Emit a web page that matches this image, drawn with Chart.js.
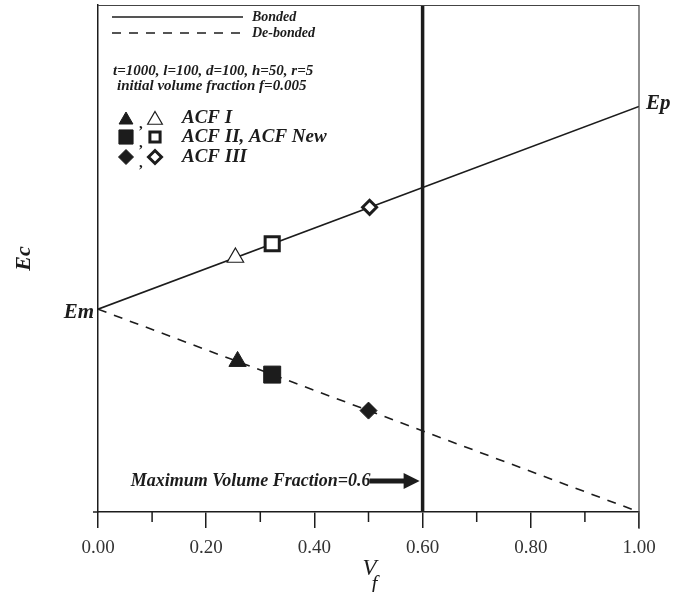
<!DOCTYPE html>
<html>
<head>
<meta charset="utf-8">
<script src="https://cdn.jsdelivr.net/npm/chart.js@4.4.1/dist/chart.umd.min.js"></script>
<style>
  html, body { margin: 0; padding: 0; background: #fff; }
  canvas { display: block; }
</style>
</head>
<body>
<canvas id="c" width="686" height="592"></canvas>
<script>
// ---- data ----
const lineVf = [0, 1];
const bondedEc = [40, 80];
const debondedEc = [40, 0];
const maxVf = 0.6;
const acfNames = ['ACF I', 'ACF II, ACF New', 'ACF III'];
const acfStyles = ['triangle', 'rect', 'rectRot'];
const acfBondedVf = [0.254, 0.322, 0.502];
const acfBondedEc = [50.2, 52.9, 60.1];
const acfDebondedVf = [0.258, 0.322, 0.500];
const acfDebondedEc = [29.7, 27.1, 20.0];
const xTickStep = 0.1;
const xTickLabels = ['0.00', '0.20', '0.40', '0.60', '0.80', '1.00'];

const INK = '#1c1c1c';
const SERIF = "'Liberation Serif', 'DejaVu Serif', serif";

const openRadius = [9.5, 10, 7];
const openBorder = [1.2, 3, 3];
const fillRadius = [10, 12, 8.5];

function pts(xs, ys) { return xs.map((x, i) => ({ x: x, y: ys[i] })); }

const datasets = [];
acfNames.forEach((name, i) => {
  datasets.push({
    label: name + ' bonded',
    data: [{ x: acfBondedVf[i], y: acfBondedEc[i] }],
    pointStyle: acfStyles[i], pointRadius: openRadius[i],
    backgroundColor: '#fff', borderColor: INK, borderWidth: openBorder[i], order: 0
  });
  datasets.push({
    label: name + ' de-bonded',
    data: [{ x: acfDebondedVf[i], y: acfDebondedEc[i] }],
    pointStyle: acfStyles[i], pointRadius: fillRadius[i],
    backgroundColor: INK, borderColor: INK, borderWidth: 1, order: 0
  });
});
datasets.push({
  label: 'Bonded', data: pts(lineVf, bondedEc), showLine: true,
  borderColor: INK, borderWidth: 1.6, pointRadius: 0, order: 1
});
datasets.push({
  label: 'De-bonded', data: pts(lineVf, debondedEc), showLine: true,
  borderColor: INK, borderWidth: 1.6, borderDash: [9, 8], pointRadius: 0, order: 1
});
datasets.push({
  label: 'Maximum', data: [{ x: maxVf, y: 0 }, { x: maxVf, y: 100 }], showLine: true,
  borderColor: INK, borderWidth: 3.5, pointRadius: 0, order: 1
});

function drawMarker(ctx, style, r, bw, x, y) {
  Chart.helpers.drawPoint(ctx, {
    pointStyle: style, radius: r, rotation: 0, borderWidth: bw
  }, x, y);
}

const decor = {
  id: 'decor',
  afterDraw(chart) {
    const ctx = chart.ctx;
    const a = chart.chartArea;
    const xs = chart.scales.x;
    ctx.save();
    // frame top / right
    ctx.strokeStyle = '#444';
    ctx.lineWidth = 1.2;
    ctx.beginPath();
    ctx.moveTo(a.left, a.top + 0.5); ctx.lineTo(a.right, a.top + 0.5);
    ctx.moveTo(a.right, a.top); ctx.lineTo(a.right, a.bottom + 17);
    ctx.stroke();
    // x axis extension to left
    ctx.strokeStyle = INK; ctx.lineWidth = 1.5;
    ctx.beginPath(); ctx.moveTo(a.left - 5, a.bottom); ctx.lineTo(a.left, a.bottom); ctx.stroke();
    // minor ticks
    ctx.beginPath();
    xs.ticks.forEach((t, i) => {
      if (i % 2 === 1) {
        const px = xs.getPixelForValue(t.value);
        ctx.moveTo(px, a.bottom); ctx.lineTo(px, a.bottom + 10);
      }
    });
    ctx.stroke();

    ctx.fillStyle = INK;
    ctx.textBaseline = 'middle';
    // Em / Ep
    ctx.font = 'bold italic 21px ' + SERIF;
    ctx.textAlign = 'right';
    ctx.fillText('Em', a.left - 4, chart.scales.y.getPixelForValue(bondedEc[0]) + 3);
    ctx.textAlign = 'left';
    ctx.fillText('Ep', a.right + 7, chart.scales.y.getPixelForValue(bondedEc[1]) - 3);

    // Ec axis title
    ctx.save();
    ctx.translate(24, (a.top + a.bottom) / 2);
    ctx.rotate(-Math.PI / 2);
    ctx.textAlign = 'center';
    ctx.font = 'bold italic 22px ' + SERIF;
    ctx.fillText('Ec', 0, 0);
    ctx.restore();

    // V_f title
    ctx.textAlign = 'center';
    ctx.font = 'italic 23px ' + SERIF;
    const cx = (a.left + a.right) / 2;
    ctx.fillText('V', cx + 1, 569);
    ctx.font = 'italic 21px ' + SERIF;
    ctx.fillText('f', cx + 6, 584);

    // legend lines
    ctx.strokeStyle = INK; ctx.lineWidth = 1.5;
    ctx.beginPath(); ctx.moveTo(112, 17); ctx.lineTo(243, 17); ctx.stroke();
    ctx.setLineDash([9, 8]);
    ctx.beginPath(); ctx.moveTo(112, 33); ctx.lineTo(245, 33); ctx.stroke();
    ctx.setLineDash([]);
    ctx.textAlign = 'left';
    ctx.font = 'bold italic 14px ' + SERIF;
    ctx.fillText('Bonded', 252, 17);
    ctx.fillText('De-bonded', 252, 33);

    ctx.font = 'bold italic 15px ' + SERIF;
    ctx.fillText('t=1000, l=100, d=100, h=50, r=5', 113, 71);
    ctx.fillText('initial volume fraction f=0.005', 117, 86);

    // marker legend
    const rows = [118, 137, 157];
    const lr = [[8, 8.5], [10, 7.2], [7.5, 6.5]];
    const lbw = [1.2, 3, 3];
    acfNames.forEach((name, i) => {
      const y = rows[i];
      const yoff = i === 0 ? 2 : 0;
      ctx.fillStyle = INK; ctx.strokeStyle = INK; ctx.lineWidth = 1;
      drawMarker(ctx, acfStyles[i], lr[i][0], 1, 126, y + yoff);
      ctx.fillStyle = '#fff'; ctx.lineWidth = lbw[i];
      drawMarker(ctx, acfStyles[i], lr[i][1], lbw[i], 155, y + yoff);
      ctx.fillStyle = INK;
      ctx.font = 'bold 15px ' + SERIF;
      ctx.fillText(',', 139, y + 6);
      ctx.font = 'bold italic 19px ' + SERIF;
      ctx.fillText(name, 182, y);
    });

    // Maximum volume fraction annotation
    const tip = xs.getPixelForValue(maxVf) - 3;
    const ay = 481;
    ctx.font = 'bold italic 18px ' + SERIF;
    ctx.textAlign = 'right';
    ctx.fillText('Maximum Volume Fraction=0.6', tip - 49, ay);
    ctx.fillRect(tip - 50, ay - 2.5, 36, 5);
    ctx.beginPath();
    ctx.moveTo(tip, ay); ctx.lineTo(tip - 16, ay - 8); ctx.lineTo(tip - 16, ay + 8);
    ctx.closePath(); ctx.fill();
    ctx.restore();
  }
};

new Chart(document.getElementById('c'), {
  type: 'scatter',
  data: { datasets: datasets },
  options: {
    responsive: false,
    animation: false,
    devicePixelRatio: 1,
    layout: { autoPadding: false, padding: { left: 98, right: 47, top: 5, bottom: 0 } },
    plugins: { legend: { display: false }, tooltip: { enabled: false } },
    scales: {
      x: {
        type: 'linear', min: 0, max: 1,
        afterFit(s) { s.height = 80; },
        ticks: {
          stepSize: xTickStep, autoSkip: false, maxRotation: 0, padding: 9,
          color: '#333', font: { family: SERIF, size: 19 },
          callback: (v, i) => (i % 2 === 0 ? xTickLabels[i / 2] : '')
        },
        grid: {
          drawOnChartArea: false, drawTicks: true, tickLength: 16, lineWidth: 1.5,
          tickColor: (c) => (c.index % 2 === 0 ? INK : 'rgba(0,0,0,0)')
        },
        border: { display: true, color: INK, width: 1.5 }
      },
      y: {
        type: 'linear', min: 0, max: 100,
        afterFit(s) { s.width = 0; s.paddingTop = 0; s.paddingBottom = 0; },
        ticks: { display: false, padding: 0 },
        grid: { display: false, drawTicks: false },
        border: { display: true, color: INK, width: 1.5 }
      }
    }
  },
  plugins: [decor]
});
</script>
</body>
</html>
